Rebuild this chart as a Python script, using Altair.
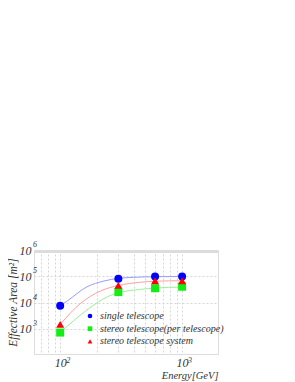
import altair as alt
import pandas as pd

# ---- data ----
energy = [100, 300, 600, 1000]
single = [7600, 80000, 97000, 98000]
stereo_per = [720, 25000, 35000, 40000]
stereo_sys = [1480, 45000, 68000, 68000]

series_names = ["single telescope", "stereo telescope(per telescope)", "stereo telescope system"]
series_colors = ["#0000ff", "#11ee11", "#ff0000"]
series_shapes = ["circle", "square", "triangle-up"]
line_colors = ["#9a9aff", "#9af09a", "#ffa0a0"]

# fitted curves
blue_E = [100, 115, 166, 229, 300, 450, 600, 1000]
blue_A = [7600, 11750, 39800, 66100, 83200, 93300, 96600, 97700]
red_E = [100, 148, 214, 300, 450, 600, 1000]
red_A = [1480, 9550, 27500, 44700, 58900, 64600, 67600]
green_E = [100, 166, 244, 300, 450, 600, 1000]
green_A = [720, 5250, 16600, 23400, 31600, 35500, 38900]

x_ticks = [100, 1000]
x_exps = ["2", "3"]
y_ticks = [1e3, 1e4, 1e5, 1e6]
y_exps = ["3", "4", "5", "6"]
x_grid = [70, 80, 90, 100, 200, 300, 400, 500, 600, 700, 800, 900, 1000]

W, H = 184, 104
FONT = "Liberation Serif"

pts = pd.DataFrame({
    "E": energy * 3,
    "A": single + stereo_per + stereo_sys,
    "s": [series_names[0]] * 4 + [series_names[1]] * 4 + [series_names[2]] * 4,
})
curves = pd.DataFrame({
    "E": blue_E + red_E + green_E,
    "A": blue_A + red_A + green_A,
    "s": [series_names[0]] * len(blue_E) + [series_names[2]] * len(red_E) + [series_names[1]] * len(green_E),
})

xs = alt.Scale(type="log", domain=[61, 1970], nice=False)
ys = alt.Scale(type="log", domain=[110, 1e6], nice=False)

x_axis = alt.Axis(values=x_grid, labelExpr="datum.value == 100 || datum.value == 1000 ? '10' : ''",
                  grid=True, gridDash=[2, 2], gridColor="#d6d6d6", ticks=False, domain=False,
                  labelFont=FONT, labelFontStyle="italic", labelFontSize=12, labelColor="#333",
                  labelPadding=3, title="Energy[GeV]", titleFont=FONT, titleFontStyle="italic",
                  titleFontWeight="normal", titleFontSize=10.5, titleColor="#333",
                  titleAnchor="end", titlePadding=2, labelFlush=False)
y_axis = alt.Axis(values=y_ticks, labelExpr="'10'", grid=True, gridDash=[2, 2], gridColor="#d6d6d6",
                  ticks=False, domain=False, labelFont=FONT, labelFontStyle="italic", labelFontSize=12,
                  labelColor="#333", labelPadding=3, title="Effective Area [m²]", titleFont=FONT,
                  titleFontStyle="italic", titleFontWeight="normal", titleFontSize=11.5, titleColor="#333",
                  titlePadding=1, labelFlush=False)

lines = alt.Chart(curves).mark_line(interpolate="monotone", strokeWidth=1).encode(
    x=alt.X("E:Q", scale=xs, axis=x_axis),
    y=alt.Y("A:Q", scale=ys, axis=y_axis),
    stroke=alt.Stroke("s:N", scale=alt.Scale(domain=series_names, range=line_colors), legend=None),
    detail="s:N",
)

point_layers = []
for i, name in enumerate(series_names):
    leg = alt.Legend(title=None, orient="none", legendX=51, legendY=61 + i * 12.7,
                     labelFont=FONT, labelFontStyle="italic", labelFontSize=10,
                     labelColor="#333", symbolSize=22, symbolType=series_shapes[i],
                     labelOffset=5, padding=0, symbolStrokeWidth=0, symbolOpacity=1)
    point_layers.append(
        alt.Chart(pts).transform_filter(alt.datum.s == name)
        .mark_point(filled=True, size=64, opacity=1, shape=series_shapes[i])
        .encode(
            x=alt.X("E:Q", scale=xs),
            y=alt.Y("A:Q", scale=ys),
            color=alt.Color("s:N", scale=alt.Scale(domain=[name], range=[series_colors[i]]), legend=leg),
        )
    )

xexp = alt.Chart(pd.DataFrame({"E": x_ticks, "t": x_exps})).mark_text(
    align="left", baseline="middle", dx=6, font=FONT, fontStyle="italic", fontSize=8, color="#333"
).encode(x=alt.X("E:Q", scale=xs), y=alt.value(H + 7), text="t:N")

yexp = alt.Chart(pd.DataFrame({"A": y_ticks, "t": y_exps})).mark_text(
    align="left", baseline="middle", dx=0, dy=-5, font=FONT, fontStyle="italic", fontSize=8, color="#333"
).encode(y=alt.Y("A:Q", scale=ys), x=alt.value(-1), text="t:N")

topband = alt.Chart(pd.DataFrame({"a": [0]})).mark_rule(color="#dcdcdc", strokeWidth=3).encode(
    x=alt.value(0), x2=alt.value(W), y=alt.value(1.5))

chart = alt.layer(lines, *point_layers, xexp, yexp, topband).resolve_scale(
    color="independent"
).properties(
    width=W, height=H,
    autosize=alt.AutoSizeParams(type="none"),
    padding={"left": 26, "top": 242, "right": 20, "bottom": 30},
).configure_view(stroke="#a0a0a0", strokeWidth=1).configure(background="white")

chart.save("out.html", embed_options={"renderer": "svg", "actions": False})
